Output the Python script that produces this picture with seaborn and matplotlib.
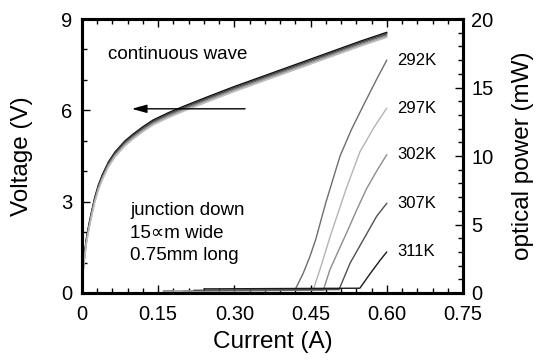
import matplotlib
matplotlib.use("Agg")
import matplotlib.pyplot as plt
import seaborn as sns
from matplotlib.ticker import MultipleLocator

# ---- data ----
temps = ["292K", "297K", "302K", "307K", "311K"]

# current-voltage curves (left axis)
i_iv = [0, 0.001, 0.003, 0.006, 0.009, 0.014, 0.019, 0.025, 0.032, 0.04, 0.052, 0.065, 0.085,
        0.1, 0.12, 0.14, 0.17, 0.2, 0.25, 0.3, 0.35, 0.4, 0.45, 0.5, 0.55, 0.6]
v_292 = [0.25, 0.58, 0.98, 1.43, 1.82, 2.28, 2.68, 3.13, 3.53, 3.88, 4.3, 4.63, 5.0,
         5.21, 5.46, 5.68, 5.92, 6.13, 6.46, 6.78, 7.08, 7.38, 7.68, 7.98, 8.28, 8.56]
v_297 = [0.22, 0.54, 0.94, 1.39, 1.78, 2.24, 2.64, 3.09, 3.49, 3.84, 4.26, 4.59, 4.96,
         5.17, 5.42, 5.64, 5.88, 6.09, 6.42, 6.74, 7.04, 7.34, 7.64, 7.94, 8.24, 8.52]
v_302 = [0.2, 0.5, 0.9, 1.35, 1.74, 2.2, 2.6, 3.05, 3.45, 3.8, 4.22, 4.55, 4.92,
         5.13, 5.38, 5.6, 5.84, 6.05, 6.38, 6.7, 7.0, 7.3, 7.6, 7.9, 8.2, 8.48]
v_307 = [0.18, 0.46, 0.86, 1.31, 1.7, 2.16, 2.56, 3.01, 3.41, 3.76, 4.18, 4.51, 4.88,
         5.09, 5.34, 5.56, 5.8, 6.01, 6.34, 6.66, 6.96, 7.26, 7.56, 7.86, 8.16, 8.44]
v_311 = [0.15, 0.42, 0.82, 1.27, 1.66, 2.12, 2.52, 2.97, 3.37, 3.72, 4.14, 4.47, 4.84,
         5.05, 5.3, 5.52, 5.76, 5.97, 6.3, 6.62, 6.92, 7.22, 7.52, 7.82, 8.12, 8.4]

# light-current curves (right axis)
i_292 = [0.16, 0.419, 0.435, 0.449, 0.46, 0.48, 0.508, 0.53, 0.554, 0.58, 0.6]
p_292 = [0.15, 0.2, 1.4, 2.7, 3.9, 6.6, 10.0, 11.9, 13.7, 15.6, 17.0]
i_297 = [0.18, 0.455, 0.47, 0.49, 0.52, 0.547, 0.575, 0.6]
p_297 = [0.15, 0.2, 1.9, 4.3, 7.6, 10.3, 12.1, 13.5]
i_302 = [0.2, 0.475, 0.488, 0.505, 0.521, 0.54, 0.56, 0.58, 0.6]
p_302 = [0.15, 0.2, 1.7, 3.1, 4.4, 6.0, 7.6, 8.9, 10.1]
i_307 = [0.22, 0.506, 0.511, 0.528, 0.554, 0.58, 0.6]
p_307 = [0.2, 0.25, 0.7, 2.2, 3.9, 5.6, 6.55]
i_311 = [0.24, 0.547, 0.567, 0.587, 0.6]
p_311 = [0.3, 0.35, 1.4, 2.4, 3.0]

x_ticks = [0, 0.15, 0.30, 0.45, 0.60, 0.75]
x_ticklabels = ["0", "0.15", "0.30", "0.45", "0.60", "0.75"]
v_ticks = [0, 3, 6, 9]
p_ticks = [0, 5, 10, 15, 20]

iv_colors = ["#111111", "#404040", "#6a6a6a", "#999999", "#bdbdbd"]
li_colors = ["#6e6e6e", "#b4b4b4", "#8c8c8c", "#505050", "#1a1a1a"]

# ---- plotting ----
sns.set_style("ticks")
plt.rcParams["font.family"] = ["Liberation Sans", "DejaVu Sans"]
plt.rcParams["text.color"] = "black"
plt.rcParams["axes.labelcolor"] = "black"
plt.rcParams["xtick.color"] = "black"
plt.rcParams["ytick.color"] = "black"

fig = plt.figure(figsize=(5.42, 3.63), dpi=100)
ax = fig.add_axes([82 / 542, 1 - 293 / 363, (463 - 82) / 542, (293 - 19) / 363])
ax2 = ax.twinx()

for v, c in zip([v_292, v_297, v_302, v_307, v_311], iv_colors):
    sns.lineplot(x=i_iv, y=v, ax=ax, color=c, lw=1.1)

li_i = [i_292, i_297, i_302, i_307, i_311]
li_p = [p_292, p_297, p_302, p_307, p_311]
for t, xi, pi, c in zip(temps, li_i, li_p, li_colors):
    sns.lineplot(x=xi, y=pi, ax=ax2, color=c, lw=1.0)
    ax2.text(0.62, pi[-1], t, fontsize=12, ha="left", va="center", color="black")

ax.set_xlim(0, 0.75)
ax.set_ylim(0, 9)
ax2.set_ylim(0, 20)
ax.set_xticks(x_ticks)
ax.set_xticklabels(x_ticklabels)
ax.set_yticks(v_ticks)
ax2.set_yticks(p_ticks)
ax.xaxis.set_minor_locator(MultipleLocator(0.03))
ax.yaxis.set_minor_locator(MultipleLocator(1))
ax2.yaxis.set_minor_locator(MultipleLocator(1))

for a in (ax, ax2):
    for s in a.spines.values():
        s.set_linewidth(2.2)
        s.set_color("black")
ax.tick_params(which="both", direction="in", top=True, right=False, width=1.0,
               color="black", labelcolor="black", labelsize=14.5)
ax.tick_params(which="major", length=6)
ax.tick_params(which="minor", length=3.5)
ax.tick_params(axis="x", pad=9)
ax.tick_params(axis="y", pad=7)
ax2.tick_params(which="both", direction="in", width=1.0, color="black",
                labelcolor="black", labelsize=14.5, pad=6)
ax2.tick_params(which="major", length=6)
ax2.tick_params(which="minor", length=3.5)

ax.set_xlabel("Current (A)", fontsize=17.5, color="black")
ax.set_ylabel("Voltage (V)", fontsize=17.5, color="black")
ax2.set_ylabel("optical power (mW)", fontsize=17.5, color="black")
ax.xaxis.set_label_coords(0.5, -0.14)
ax.yaxis.set_label_coords(-0.128, 0.5)
ax2.yaxis.set_label_coords(1.128, 0.5)

ax.text(0.051, 7.83, "continuous wave", fontsize=13.5, ha="left", va="center")
ax.text(0.0945, 1.97, "junction down\n15\u221dm wide\n0.75mm long", fontsize=13.5,
        ha="left", va="center", linespacing=1.4,
        family=["Liberation Sans", "DejaVu Sans"])
ax.annotate("", xy=(0.098, 6.05), xytext=(0.321, 6.05),
            arrowprops=dict(arrowstyle="-|>,head_length=0.9,head_width=0.25",
                            color="black", lw=1.0, shrinkA=0, shrinkB=0))

fig.savefig("out.png", dpi=100)
